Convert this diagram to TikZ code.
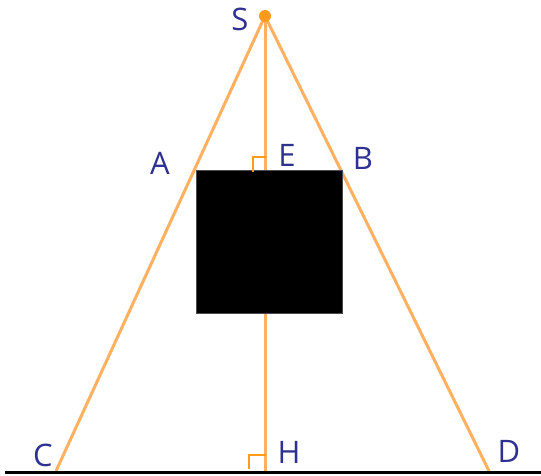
\documentclass[tikz,border=0pt]{standalone}
\usepackage{fontspec}
\setmainfont{Open Sans}
\definecolor{ray}{HTML}{FFB060}
\definecolor{dotc}{HTML}{FF9A1A}
\definecolor{lab}{HTML}{2E3192}
\begin{document}
\begin{tikzpicture}[x=1pt,y=-1pt,
  rayline/.style={draw=ray,line width=3pt},
  rightmark/.style={draw=dotc,line width=2.6pt},
  lbl/.style={text=lab,font=\fontsize{31}{31}\selectfont,inner sep=0pt}]
\useasboundingbox (0,0) rectangle (541,476);
\coordinate (S) at (265,16);
\coordinate (C) at (56,471);
\coordinate (D) at (489,471);
\coordinate (H) at (265,471);
\coordinate (E) at (265,170);
\coordinate (L0) at (5,472);
\coordinate (L1) at (541,472);
\draw[rayline] (S) -- (C);
\draw[rayline] (S) -- (D);
\draw[rayline] (S) -- (H);
\node[draw=black!70,line width=1pt,fill=black,minimum width=146pt,minimum height=142pt,inner sep=0pt,anchor=north west] (sq) at (195.5,170.5) {};
\draw[black,line width=3pt] (L0) -- (L1);
\fill[dotc] (S) circle (6pt);
\draw[rightmark] (253,172) -- (253,157) -- (266,157);
\draw[rightmark] (249,469) -- (249,455) -- (266,455);
\node[lbl] (lS) at (240,19) {S};
\node[lbl] (lA) at (160,163) {A};
\node[lbl] (lE) at (287,155) {E};
\node[lbl] (lB) at (363,158) {B};
\node[lbl] (lC) at (43,455) {C};
\node[lbl] (lH) at (289,452) {H};
\node[lbl] (lD) at (509,451) {D};
\end{tikzpicture}
\end{document}
